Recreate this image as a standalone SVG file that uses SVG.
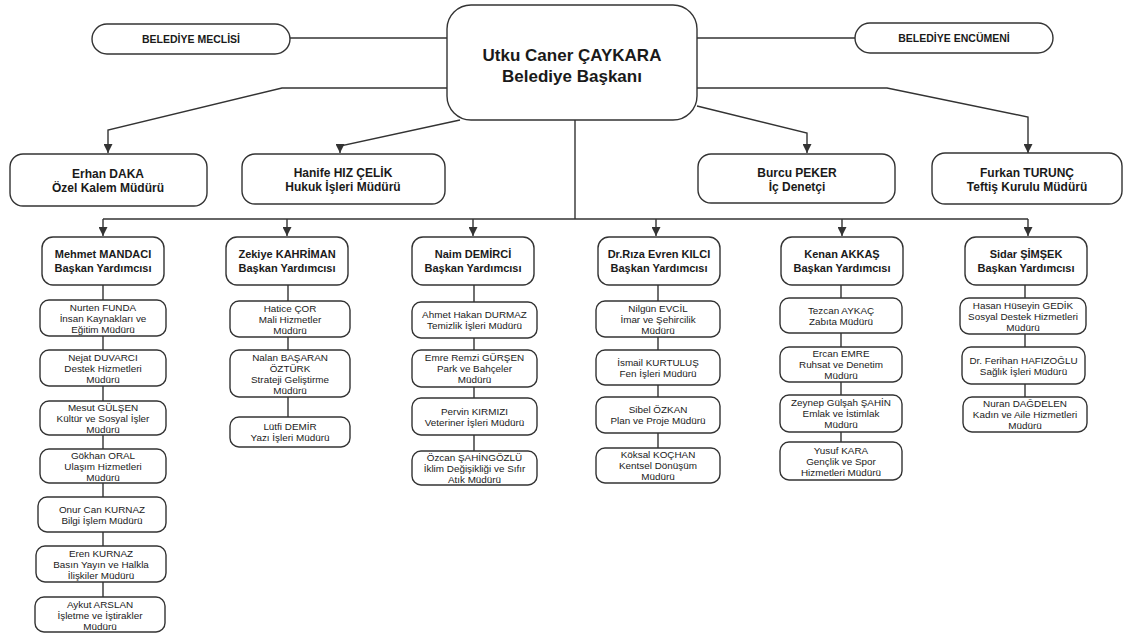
<svg xmlns="http://www.w3.org/2000/svg" width="1126" height="634" viewBox="0 0 1126 634">
<defs>
<style>
.b{fill:#fff;stroke:#333;stroke-width:1.4}
.c{fill:none;stroke:#333;stroke-width:1.4}
text{font-family:"Liberation Sans",Arial,sans-serif;fill:#1a1a1a;text-anchor:middle;dominant-baseline:central}
.t0{font-size:17px;font-weight:bold}
.t1{font-size:12px;font-weight:bold}
.tp{font-size:10.5px;font-weight:bold}
.tv{font-size:11px;font-weight:bold}
.tc{font-size:9.9px}
</style>
<marker id="ar" viewBox="0 0 10 10" refX="10" refY="5" markerWidth="9" markerHeight="9" markerUnits="userSpaceOnUse" orient="auto">
<path d="M0,0 L10,5 L0,10 Z" fill="#333"/>
</marker>
</defs>
<rect width="1126" height="634" fill="#fff"/>
<g id="connectors">
<path class="c" d="M290,38 L447,38"/>
<path class="c" d="M697,38 L855,38"/>
<path class="c" d="M447,88 L282,88 L108,130 L108,153" marker-end="url(#ar)"/>
<path class="c" d="M460,120 L340,146 L340,153" marker-end="url(#ar)"/>
<path class="c" d="M697,106 L807,133 L807,153" marker-end="url(#ar)"/>
<path class="c" d="M697,88 L887,88 L1028,117 L1028,153" marker-end="url(#ar)"/>
<path class="c" d="M575,120 L575,219"/>
<path class="c" d="M103,219 L1028,219"/>
<path class="c" d="M103,219 L103,236" marker-end="url(#ar)"/>
<path class="c" d="M287,219 L287,236" marker-end="url(#ar)"/>
<path class="c" d="M473,219 L473,236" marker-end="url(#ar)"/>
<path class="c" d="M656,219 L656,236" marker-end="url(#ar)"/>
<path class="c" d="M842,219 L842,236" marker-end="url(#ar)"/>
<path class="c" d="M1028,219 L1028,236" marker-end="url(#ar)"/>
<path class="c" d="M103,285 L103,597"/>
<path class="c" d="M288,285 L288,417"/>
<path class="c" d="M474,285 L474,451"/>
<path class="c" d="M658,285 L658,448"/>
<path class="c" d="M841,285 L841,442"/>
<path class="c" d="M1025,285 L1025,397"/>
</g>
<g id="baskan"><rect class="b" x="447" y="5" width="250" height="115" rx="24"/><text class="t0" x="572" y="55">Utku Caner ÇAYKARA</text><text class="t0" x="572" y="76">Belediye Başkanı</text></g>
<g id="meclis"><rect class="b" x="92" y="24" width="198" height="30" rx="15"/><text class="tp" x="191" y="39">BELEDİYE MECLİSİ</text></g>
<g id="encumen"><rect class="b" x="855" y="23" width="198" height="30" rx="15"/><text class="tp" x="954" y="38">BELEDİYE ENCÜMENİ</text></g>
<g id="erhan"><rect class="b" x="10" y="154" width="197" height="52" rx="13"/><text class="t1" x="108" y="174">Erhan DAKA</text><text class="t1" x="108" y="188">Özel Kalem Müdürü</text></g>
<g id="hanife"><rect class="b" x="242" y="154" width="203" height="50" rx="13"/><text class="t1" x="343" y="173">Hanife HIZ ÇELİK</text><text class="t1" x="343" y="187">Hukuk İşleri Müdürü</text></g>
<g id="burcu"><rect class="b" x="698" y="154" width="197" height="49" rx="13"/><text class="t1" x="797" y="173">Burcu PEKER</text><text class="t1" x="797" y="187">İç Denetçi</text></g>
<g id="furkan"><rect class="b" x="932" y="153" width="190" height="51" rx="13"/><text class="t1" x="1027" y="173">Furkan TURUNÇ</text><text class="t1" x="1027" y="187">Teftiş Kurulu Müdürü</text></g>
<g id="mehmet"><rect class="b" x="42" y="237" width="122" height="48" rx="11"/><text class="tv" x="103" y="254">Mehmet MANDACI</text><text class="tv" x="103" y="268">Başkan Yardımcısı</text></g>
<g id="zekiye"><rect class="b" x="226" y="237" width="122" height="48" rx="11"/><text class="tv" x="287" y="254">Zekiye KAHRİMAN</text><text class="tv" x="287" y="268">Başkan Yardımcısı</text></g>
<g id="naim"><rect class="b" x="412" y="237" width="122" height="48" rx="11"/><text class="tv" x="473" y="254">Naim DEMİRCİ</text><text class="tv" x="473" y="268">Başkan Yardımcısı</text></g>
<g id="riza"><rect class="b" x="598" y="237" width="122" height="48" rx="11"/><text class="tv" x="659" y="254">Dr.Rıza Evren KILCI</text><text class="tv" x="659" y="268">Başkan Yardımcısı</text></g>
<g id="kenan"><rect class="b" x="781" y="237" width="122" height="48" rx="11"/><text class="tv" x="842" y="254">Kenan AKKAŞ</text><text class="tv" x="842" y="268">Başkan Yardımcısı</text></g>
<g id="sidar"><rect class="b" x="965" y="237" width="122" height="48" rx="11"/><text class="tv" x="1026" y="254">Sidar ŞİMŞEK</text><text class="tv" x="1026" y="268">Başkan Yardımcısı</text></g>
<g id="nurten"><rect class="b" x="40" y="300" width="126" height="36" rx="9"/><text class="tc" x="103" y="307">Nurten FUNDA</text><text class="tc" x="103" y="318">İnsan Kaynakları ve</text><text class="tc" x="103" y="329">Eğitim Müdürü</text></g>
<g id="nejat"><rect class="b" x="40" y="350" width="126" height="36" rx="9"/><text class="tc" x="103" y="357">Nejat DUVARCI</text><text class="tc" x="103" y="368">Destek Hizmetleri</text><text class="tc" x="103" y="379">Müdürü</text></g>
<g id="mesut"><rect class="b" x="40" y="401" width="126" height="34" rx="9"/><text class="tc" x="103" y="407">Mesut GÜLŞEN</text><text class="tc" x="103" y="418">Kültür ve Sosyal İşler</text><text class="tc" x="103" y="429">Müdürü</text></g>
<g id="gokhan"><rect class="b" x="40" y="449" width="126" height="34" rx="9"/><text class="tc" x="103" y="455">Gökhan ORAL</text><text class="tc" x="103" y="466">Ulaşım Hizmetleri</text><text class="tc" x="103" y="477">Müdürü</text></g>
<g id="onur"><rect class="b" x="38" y="497" width="128" height="35" rx="9"/><text class="tc" x="102" y="509">Onur Can KURNAZ</text><text class="tc" x="102" y="520">Bilgi İşlem Müdürü</text></g>
<g id="eren"><rect class="b" x="36" y="546" width="130" height="36" rx="9"/><text class="tc" x="101" y="553">Eren KURNAZ</text><text class="tc" x="101" y="564">Basın Yayın ve Halkla</text><text class="tc" x="101" y="575">İlişkiler Müdürü</text></g>
<g id="aykut"><rect class="b" x="35" y="597" width="130" height="35" rx="9"/><text class="tc" x="100" y="604">Aykut ARSLAN</text><text class="tc" x="100" y="615">İşletme ve İştirakler</text><text class="tc" x="100" y="626">Müdürü</text></g>
<g id="hatice"><rect class="b" x="230" y="301" width="120" height="36" rx="9"/><text class="tc" x="290" y="308">Hatice ÇOR</text><text class="tc" x="290" y="319">Mali Hizmetler</text><text class="tc" x="290" y="330">Müdürü</text></g>
<g id="nalan"><rect class="b" x="230" y="350" width="120" height="47" rx="9"/><text class="tc" x="290" y="357">Nalan BAŞARAN</text><text class="tc" x="290" y="368">ÖZTÜRK</text><text class="tc" x="290" y="379">Strateji Geliştirme</text><text class="tc" x="290" y="390">Müdürü</text></g>
<g id="lutfi"><rect class="b" x="230" y="417" width="120" height="30" rx="9"/><text class="tc" x="290" y="426.5">Lütfi DEMİR</text><text class="tc" x="290" y="437.5">Yazı İşleri Müdürü</text></g>
<g id="ahmet"><rect class="b" x="412" y="302" width="125" height="36" rx="9"/><text class="tc" x="474.5" y="314.5">Ahmet Hakan DURMAZ</text><text class="tc" x="474.5" y="325.5">Temizlik İşleri Müdürü</text></g>
<g id="emre"><rect class="b" x="412" y="350" width="125" height="37" rx="9"/><text class="tc" x="474.5" y="357.5">Emre Remzi GÜRŞEN</text><text class="tc" x="474.5" y="368.5">Park ve Bahçeler</text><text class="tc" x="474.5" y="379.5">Müdürü</text></g>
<g id="pervin"><rect class="b" x="412" y="398" width="125" height="37" rx="9"/><text class="tc" x="474.5" y="411">Pervin KIRMIZI</text><text class="tc" x="474.5" y="422">Veteriner İşleri Müdürü</text></g>
<g id="ozcan"><rect class="b" x="412" y="451" width="125" height="34" rx="9"/><text class="tc" x="474.5" y="457">Özcan ŞAHİNGÖZLÜ</text><text class="tc" x="474.5" y="468">İklim Değişikliği ve Sıfır</text><text class="tc" x="474.5" y="479">Atık Müdürü</text></g>
<g id="nilgun"><rect class="b" x="596" y="301" width="124" height="36" rx="9"/><text class="tc" x="658" y="308">Nilgün EVCİL</text><text class="tc" x="658" y="319">İmar ve Şehircilik</text><text class="tc" x="658" y="330">Müdürü</text></g>
<g id="ismail"><rect class="b" x="596" y="350" width="124" height="35" rx="9"/><text class="tc" x="658" y="362">İsmail KURTULUŞ</text><text class="tc" x="658" y="373">Fen İşleri Müdürü</text></g>
<g id="sibel"><rect class="b" x="596" y="397" width="124" height="36" rx="9"/><text class="tc" x="658" y="409.5">Sibel ÖZKAN</text><text class="tc" x="658" y="420.5">Plan ve Proje Müdürü</text></g>
<g id="koksal"><rect class="b" x="596" y="448" width="124" height="35" rx="9"/><text class="tc" x="658" y="454.5">Köksal KOÇHAN</text><text class="tc" x="658" y="465.5">Kentsel Dönüşüm</text><text class="tc" x="658" y="476.5">Müdürü</text></g>
<g id="tezcan"><rect class="b" x="780" y="298" width="122" height="35" rx="9"/><text class="tc" x="841" y="310">Tezcan AYKAÇ</text><text class="tc" x="841" y="321">Zabıta Müdürü</text></g>
<g id="ercan"><rect class="b" x="780" y="347" width="122" height="35" rx="9"/><text class="tc" x="841" y="353.5">Ercan EMRE</text><text class="tc" x="841" y="364.5">Ruhsat ve Denetim</text><text class="tc" x="841" y="375.5">Müdürü</text></g>
<g id="zeynep"><rect class="b" x="780" y="395" width="122" height="37" rx="9"/><text class="tc" x="841" y="402.5">Zeynep Gülşah ŞAHİN</text><text class="tc" x="841" y="413.5">Emlak ve İstimlak</text><text class="tc" x="841" y="424.5">Müdürü</text></g>
<g id="yusuf"><rect class="b" x="780" y="442" width="122" height="38" rx="9"/><text class="tc" x="841" y="450">Yusuf KARA</text><text class="tc" x="841" y="461">Gençlik ve Spor</text><text class="tc" x="841" y="472">Hizmetleri Müdürü</text></g>
<g id="hasan"><rect class="b" x="960" y="298" width="126" height="36" rx="9"/><text class="tc" x="1023" y="305">Hasan Hüseyin GEDİK</text><text class="tc" x="1023" y="316">Sosyal Destek Hizmetleri</text><text class="tc" x="1023" y="327">Müdürü</text></g>
<g id="ferihan"><rect class="b" x="962" y="347" width="123" height="37" rx="9"/><text class="tc" x="1023.5" y="360">Dr. Ferihan HAFIZOĞLU</text><text class="tc" x="1023.5" y="371">Sağlık İşleri Müdürü</text></g>
<g id="nuran"><rect class="b" x="963" y="397" width="124" height="35" rx="9"/><text class="tc" x="1025" y="403.5">Nuran DAĞDELEN</text><text class="tc" x="1025" y="414.5">Kadın ve Aile Hizmetleri</text><text class="tc" x="1025" y="425.5">Müdürü</text></g>
</svg>
